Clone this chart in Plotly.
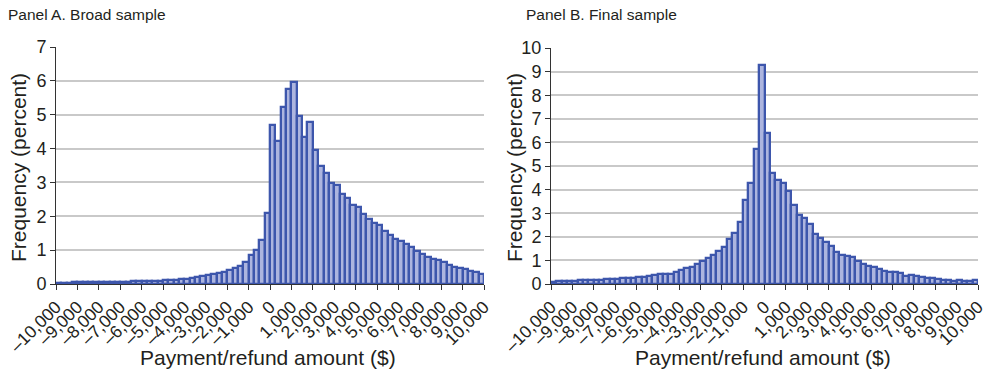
import plotly.graph_objects as go

# Histogram bins: 250-dollar bins from -10,000 to 10,000 (left edges)
bin_width = 250
bin_left = [-10000 + bin_width * i for i in range(80)]

# Panel A: broad sample, frequency in percent per bin
broad_freq = [
    0.04, 0.04, 0.04, 0.05, 0.05, 0.05, 0.05, 0.06, 0.06, 0.06,
    0.06, 0.07, 0.07, 0.07, 0.08, 0.08, 0.08, 0.09, 0.09, 0.10,
    0.11, 0.12, 0.13, 0.14, 0.16, 0.18, 0.20, 0.23, 0.26, 0.29,
    0.32, 0.36, 0.40, 0.47, 0.54, 0.64, 0.86, 1.01, 1.30, 2.09,
    4.70, 4.22, 5.24, 5.77, 5.98, 4.95, 4.35, 4.79, 3.95, 3.49,
    3.27, 2.99, 2.92, 2.65, 2.53, 2.32, 2.28, 2.08, 1.93, 1.81,
    1.74, 1.56, 1.45, 1.33, 1.28, 1.17, 1.08, 0.98, 0.90, 0.81,
    0.75, 0.70, 0.64, 0.57, 0.49, 0.47, 0.44, 0.39, 0.36, 0.31,
]

# Panel B: final sample, frequency in percent per bin
final_freq = [
    0.10, 0.13, 0.11, 0.11, 0.13, 0.16, 0.17, 0.17, 0.17, 0.18,
    0.20, 0.21, 0.23, 0.24, 0.24, 0.25, 0.28, 0.30, 0.32, 0.38,
    0.42, 0.41, 0.42, 0.51, 0.61, 0.66, 0.73, 0.86, 0.99, 1.10,
    1.21, 1.38, 1.57, 1.91, 2.16, 2.61, 3.57, 4.28, 5.72, 9.30,
    6.40, 4.70, 4.39, 4.28, 3.95, 3.33, 2.91, 2.80, 2.56, 2.13,
    1.96, 1.77, 1.62, 1.37, 1.24, 1.17, 1.13, 0.96, 0.85, 0.75,
    0.71, 0.64, 0.54, 0.49, 0.51, 0.47, 0.35, 0.37, 0.34, 0.30,
    0.27, 0.24, 0.21, 0.18, 0.16, 0.13, 0.18, 0.11, 0.11, 0.16,
]

tick_vals = list(range(-10000, 10001, 1000))
tick_text = [("\u2013" if v < 0 else "") + f"{abs(v):,}" for v in tick_vals]

W, H = 990, 377
FILL = "#adb5df"
EDGE = "#3d56ac"
TEXT = "#231f20"
GRID = "#c9c9c9"
FONT = "Liberation Sans, Arial, sans-serif"

fig = go.Figure()
for freq, xa, ya in [(broad_freq, "x", "y"), (final_freq, "x2", "y2")]:
    fig.add_trace(go.Bar(
        x=bin_left, y=freq, width=bin_width, offset=0,
        marker=dict(color=FILL, line=dict(color=EDGE, width=2.3)),
        xaxis=xa, yaxis=ya, showlegend=False, hoverinfo="x+y",
    ))

def xaxis(x0, x1, anchor):
    return dict(
        domain=[x0 / W, x1 / W], range=[-10000, 10000], anchor=anchor,
        tickmode="array", tickvals=tick_vals, ticktext=tick_text,
        tickangle=-45, ticks="outside", ticklen=5, tickcolor="#333",
        showline=True, linecolor="#333", linewidth=1,
        showgrid=False, zeroline=False, automargin=False,
        tickfont=dict(size=17.5, color=TEXT, family=FONT),
    )

def yaxis(y_top, y_bot, ymax, anchor):
    return dict(
        domain=[1 - y_bot / H, 1 - y_top / H], range=[0, ymax], anchor=anchor,
        dtick=1, ticks="outside", ticklen=5, tickcolor="#333",
        showline=True, linecolor="#333", linewidth=1,
        showgrid=True, gridcolor=GRID, gridwidth=1.5, zeroline=False,
        automargin=False,
        tickfont=dict(size=18, color=TEXT, family=FONT),
    )

fig.update_layout(
    width=W, height=H,
    margin=dict(l=0, r=0, t=0, b=0),
    paper_bgcolor="white", plot_bgcolor="white",
    bargap=0,
    xaxis=xaxis(56, 484, "y"), yaxis=yaxis(47, 284, 7, "x"),
    xaxis2=xaxis(551, 978, "y2"), yaxis2=yaxis(48, 284, 10, "x2"),
    font=dict(family=FONT, color=TEXT),
)

def ann(text, x, y, size, angle=0, xanchor="center"):
    fig.add_annotation(
        text=text, x=x / W, y=1 - y / H, xref="paper", yref="paper",
        showarrow=False, textangle=angle, xanchor=xanchor, yanchor="middle",
        font=dict(size=size, color=TEXT, family=FONT),
    )

ann("Panel A. Broad sample", 6, 15, 15.5, xanchor="left")
ann("Panel B. Final sample", 524, 15, 15.5, xanchor="left")
ann("Frequency (percent)", 18, 168, 21, angle=-90)
ann("Frequency (percent)", 514, 168, 21, angle=-90)
ann("Payment/refund amount ($)", 268, 357, 21)
ann("Payment/refund amount ($)", 763, 357, 21)

fig.write_html("out.html")
